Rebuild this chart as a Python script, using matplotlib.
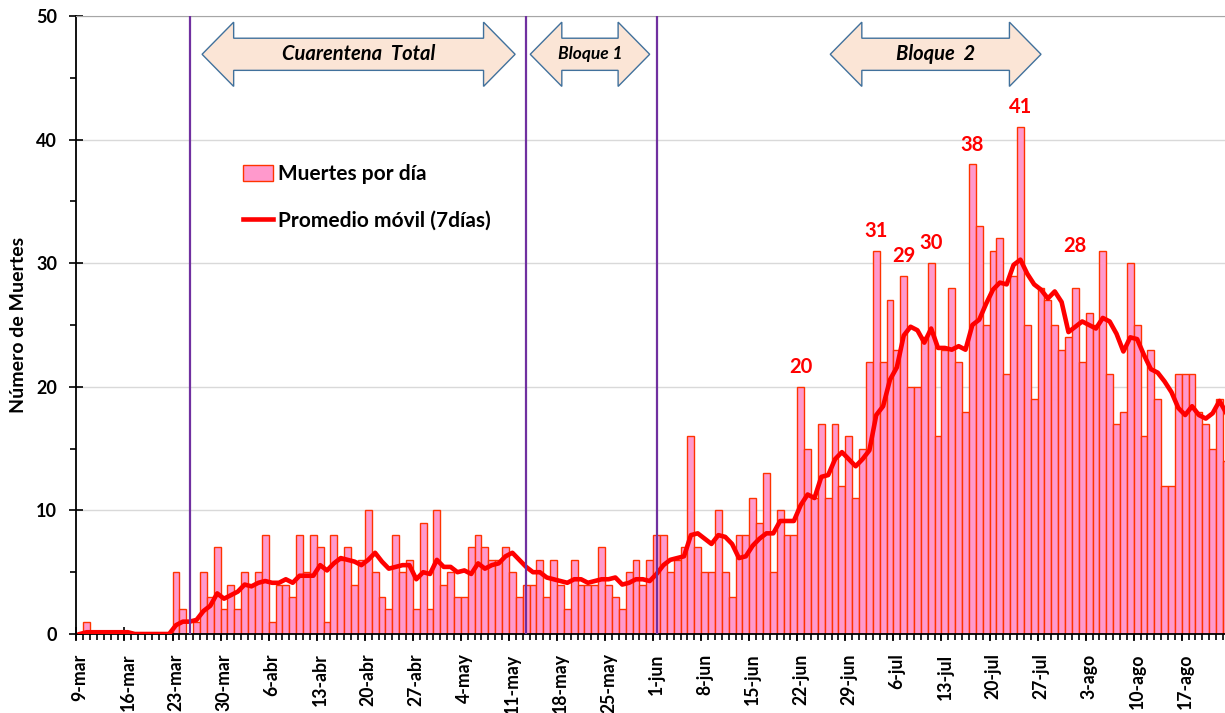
import numpy as np
import pandas as pd
import matplotlib
matplotlib.use("Agg")
import matplotlib.pyplot as plt
from matplotlib.patches import Polygon, Patch
from matplotlib.lines import Line2D

plt.rcParams['font.family'] = ['Lato', 'DejaVu Sans']
plt.rcParams['font.weight'] = 'bold'

# daily deaths, one value per day starting 9-mar
deaths = [0, 1, 0, 0, 0, 0, 0, 0, 0, 0, 0, 0, 0, 0,
          5, 2, 0, 1, 5, 3, 7, 2, 4, 2, 5, 4, 5, 8,
          1, 4, 4, 3, 8, 5, 8, 7, 1, 8, 6, 7, 4, 6,
          10, 5, 3, 2, 8, 5, 6, 2, 9, 2, 10, 4, 5, 3,
          3, 7, 8, 7, 6, 6, 7, 5, 3, 4, 4, 6, 3, 6,
          4, 2, 6, 4, 4, 4, 7, 4, 3, 2, 5, 6, 4, 6,
          8, 8, 5, 6, 7, 16, 7, 5, 5, 10, 5, 3, 8, 8,
          11, 9, 13, 5, 10, 8, 8, 20, 15, 11, 17, 11, 17, 12,
          16, 11, 15, 22, 31, 22, 27, 23, 29, 20, 20, 24, 30, 16,
          23, 28, 22, 18, 38, 33, 25, 31, 32, 21, 29, 41, 25, 19,
          28, 27, 25, 23, 24, 28, 22, 26, 25, 31, 21, 17, 18, 30,
          25, 16, 23, 19, 12, 12, 21, 21, 21, 18, 17, 15, 19, 14]

week_labels = ['9-mar', '16-mar', '23-mar', '30-mar', '6-abr', '13-abr', '20-abr',
               '27-abr', '4-may', '11-may', '18-may', '25-may', '1-jun', '8-jun',
               '15-jun', '22-jun', '29-jun', '6-jul', '13-jul', '20-jul', '27-jul',
               '3-ago', '10-ago', '17-ago']

# days (index from 9-mar) where the purple separators are drawn
phase_lines = [16, 65, 84]
# block arrows: text, left tip day, right tip day, font size
phases = [('Cuarentena  Total', 17.8, 63.4, 14.5),
          ('Bloque 1', 65.6, 83.0, 12.5),
          ('Bloque  2', 109.3, 140.0, 14.5)]
# days whose value is written above the bar
labeled_days = [105, 116, 120, 124, 130, 137, 145]

days = np.arange(len(deaths))
ma7 = pd.Series(deaths).rolling(7, min_periods=1).sum() / 7

fig = plt.figure(figsize=(12.25, 7.13), dpi=100)
ax = fig.add_axes([0.0624, 0.1108, 0.9376, 0.8668])

ax.bar(days, deaths, width=1.0, color='#FF99CC', edgecolor='#FF3300',
       linewidth=1.0, zorder=2)
ax.plot(days, ma7, color='#FF0000', lw=3.3, zorder=4, solid_joinstyle='round')

for d in phase_lines:
    ax.axvline(d, color='#7030A0', lw=1.6, zorder=5)

ax.set_xlim(-0.5, 166.8)
ax.set_ylim(0, 50)

# y axis
ax.set_yticks(range(0, 51, 10))
ax.set_yticks(range(5, 50, 10), minor=True)
ax.yaxis.grid(True, color='#D9D9D9', lw=1)
ax.set_axisbelow(True)
ax.tick_params(axis='y', which='major', direction='inout', length=10, width=1.2,
               labelsize=13, pad=9)
ax.tick_params(axis='y', which='minor', direction='out', length=4, width=1.2)
ax.set_ylabel('Número de Muertes', fontsize=14, fontweight='bold')
ax.yaxis.set_label_coords(-0.043, 0.5)

# x axis: labels on the week days, ticks on the day boundaries
week_pos = np.arange(0, len(week_labels) * 7, 7)
ax.set_xticks(week_pos)
ax.set_xticklabels(week_labels, rotation=90, fontsize=12.7, fontweight='bold')
ax.tick_params(axis='x', which='major', length=0, pad=14)
ax.set_xticks(np.arange(len(deaths)) - 0.5, minor=True)
ax.tick_params(axis='x', which='minor', direction='out', length=4, width=1.2)
sec = ax.secondary_xaxis('bottom')
sec.set_xticks(week_pos - 0.5)
sec.set_xticklabels([])
sec.tick_params(direction='inout', length=10, width=1.2)
sec.spines['bottom'].set_visible(False)

for s in ['left', 'bottom']:
    ax.spines[s].set_linewidth(1.3)
ax.spines['right'].set_visible(False)
ax.spines['top'].set_color('#A6A6A6')

# value labels
for d in labeled_days:
    off = 23 if d == 145 else 7
    ax.annotate(str(deaths[d]), (d, deaths[d]), xytext=(0, off),
                textcoords='offset points', ha='center', va='bottom',
                color='#FF0000', fontsize=14.5, fontweight='bold')

# block arrows
y_c, y_ht, y_hb, y_bt, y_bb = 46.9, 49.5, 44.3, 48.2, 45.6
head = 4.6
for text, x0, x1, fs in phases:
    pts = [(x0, y_c), (x0 + head, y_ht), (x0 + head, y_bt), (x1 - head, y_bt),
           (x1 - head, y_ht), (x1, y_c), (x1 - head, y_hb), (x1 - head, y_bb),
           (x0 + head, y_bb), (x0 + head, y_hb)]
    ax.add_patch(Polygon(pts, closed=True, facecolor='#FBE5D6',
                         edgecolor='#41719C', lw=1.0, zorder=6))
    ax.text((x0 + x1) / 2, y_c, text, ha='center', va='center', fontsize=fs,
            fontweight='bold', fontstyle='italic', zorder=7)

handles = [Patch(facecolor='#FF99CC', edgecolor='#FF3300', lw=1.0),
           Line2D([], [], color='#FF0000', lw=3.3)]
ax.legend(handles, ['Muertes por día', 'Promedio móvil (7días)'],
          loc='upper left', bbox_to_anchor=(0.145, 0.76), frameon=False,
          labelspacing=1.25, handlelength=1.45, handleheight=0.75,
          handletextpad=0.25, borderpad=0, borderaxespad=0,
          prop={'weight': 'bold', 'size': 15})

fig.savefig('out.png', dpi=100)
